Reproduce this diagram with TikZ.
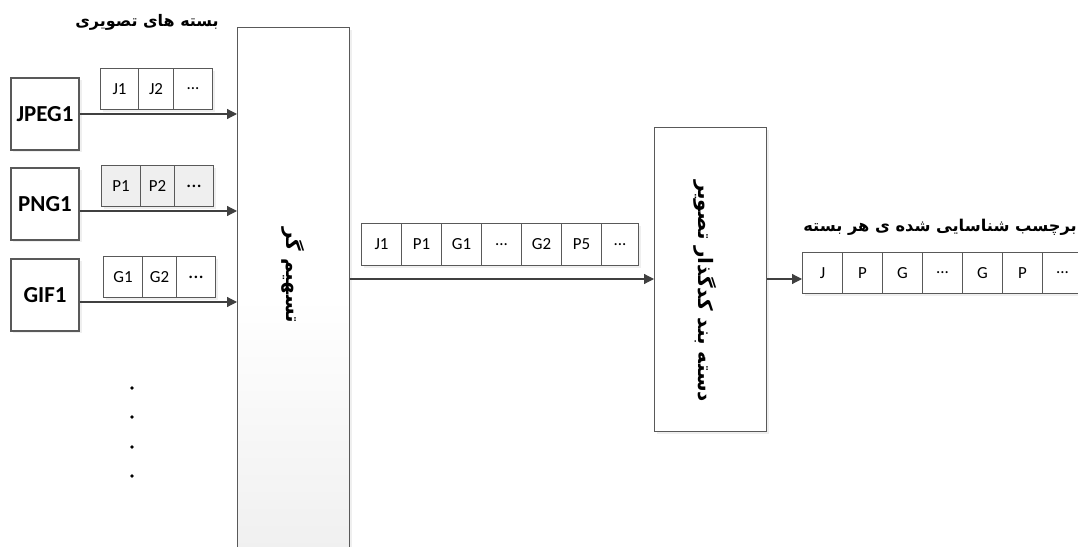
\documentclass[tikz,border=0pt]{standalone}
\usepackage{fontspec}
\setmainfont{Carlito}
\newfontfamily\arabicfont[Script=Arabic]{DejaVu Sans}
\TeXXeTstate=1
\usetikzlibrary{arrows.meta,shadows}
\definecolor{edge}{HTML}{595959}
\definecolor{tip}{HTML}{404040}
\definecolor{pale}{HTML}{EFEFEF}
\newcommand{\etcdots}{...}
\begin{document}
\begin{tikzpicture}[x=1bp,y=-1bp,
  shade/.style={drop shadow={shadow xshift=2.5bp,shadow yshift=-2.5bp,fill=black!12,opacity=0.5}},
  box/.style={rectangle,draw=edge,line width=1.1bp,fill=white,inner sep=0pt,shade},
  srcbox/.style={box,minimum width=68bp,minimum height=72bp,font=\fontsize{23}{23}\selectfont\bfseries},
  cell/.style={rectangle,draw=edge,line width=1bp,fill=white,inner sep=0pt,anchor=north west,
               minimum height=41bp,font=\fontsize{17}{17}\selectfont,shade},
  grey/.style={fill=pale},
  flow/.style={draw=tip,line width=1.2bp,-{Triangle[length=10bp,width=10bp]}},
  fa/.style={font=\arabicfont\bfseries\fontsize{16}{16}\selectfont,inner sep=0pt},
  dot/.style={circle,fill=black,inner sep=0pt,minimum size=3.8bp}
]
\useasboundingbox (0,0) rectangle (1078,547);
\clip (0,0) rectangle (1078,547);

% multiplexer, running past the lower edge
\node[box,anchor=north west,minimum width=112bp,minimum height=540bp,
      top color=white,bottom color=pale,middle color=white] (mux) at (237,27) {};
\node[fa,rotate=-90,font=\arabicfont\bfseries\fontsize{20}{20}\selectfont] (muxlabel) at (293,275)
  {\beginR تسهیم گر\endR};

% title over the input streams
\node[fa] (title) at (147,22) {\beginR بسته های تصویری\endR};

% image sources
\node[srcbox] (jpeg) at (45,114) {JPEG1};
\node[srcbox] (png)  at (45,204) {PNG1};
\node[srcbox] (gif)  at (45,295) {GIF1};

% packets of each source
\node[cell,minimum width=38bp] (j1) at (100,68) {J1};
\node[cell,minimum width=35bp] (j2) at (138,68) {J2};
\node[cell,minimum width=39bp] (j3) at (173,68) {\etcdots};

\node[cell,grey,minimum width=39bp] (p1) at (101,165) {P1};
\node[cell,grey,minimum width=34bp] (p2) at (140,165) {P2};
\node[cell,grey,minimum width=39bp,font=\fontsize{21}{21}\selectfont] (p3) at (174,165) {\etcdots};

\node[cell,minimum width=39bp] (g1) at (103,256) {G1};
\node[cell,minimum width=34bp] (g2) at (142,256) {G2};
\node[cell,minimum width=39bp,font=\fontsize{21}{21}\selectfont] (g3) at (176,256) {\etcdots};

% further sources
\foreach \k/\yy in {1/388,2/417,3/447,4/476}
  \node[dot] (more\k) at (132,\yy) {};

% source connectors
\coordinate (pngout) at ([yshift=-7bp]png.east);
\coordinate (gifout) at ([yshift=-7bp]gif.east);
\draw[flow] (jpeg.east) -- (mux.west |- jpeg.east);
\draw[flow] (pngout) -- (mux.west |- pngout);
\draw[flow] (gifout) -- (mux.west |- gifout);

% classifier
\node[box,anchor=north west,minimum width=112bp,minimum height=304bp] (cls) at (654,127) {};
\node[fa,rotate=-90,font=\arabicfont\bfseries\fontsize{20}{20}\selectfont] (clslabel) at (705,291)
  {\beginR دسته بند کدگذار تصویر\endR};

% multiplexed stream
\foreach \n/\x/\w/\t in {1/361/40/J1,2/401/40/P1,3/441/40/G1,4/481/40/\etcdots,5/521/40/G2,6/561/40/P5,7/601/37/\etcdots}
  \node[cell,minimum width=\w bp,minimum height=42bp] (m\n) at (\x,223) {\t};

\coordinate (lane) at (0,279);
\draw[flow] (mux.east |- lane) -- (cls.west |- lane);

% labelled stream
\node[fa,anchor=east,font=\arabicfont\bfseries\fontsize{16.3}{16.3}\selectfont] (outtitle) at (1077,227)
  {\beginR برچسب شناسایی شده ی هر بسته\endR};
\foreach \n/\x/\t in {1/802/J,2/842/P,3/882/G,4/922/\etcdots,5/962/G,6/1002/P,7/1042/\etcdots}
  \node[cell,minimum width=40bp] (o\n) at (\x,252) {\t};

\draw[flow] (cls.east |- lane) -- (o1.west |- lane);
\end{tikzpicture}
\end{document}
